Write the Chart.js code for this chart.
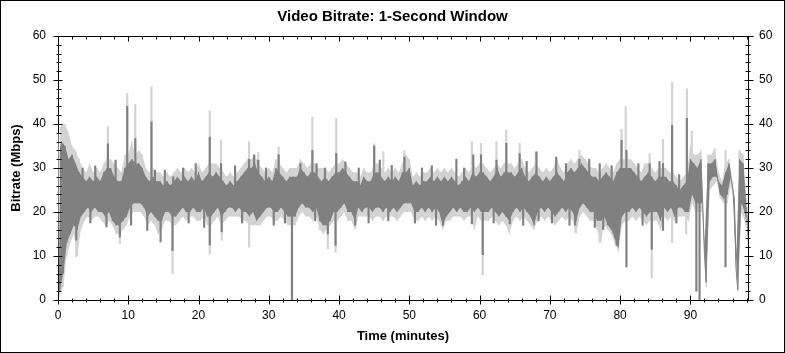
<!DOCTYPE html>
<html>
<head>
<meta charset="utf-8">
<title>Video Bitrate: 1-Second Window</title>
<script src="https://cdn.jsdelivr.net/npm/chart.js@4/dist/chart.umd.min.js"></script>
<style>
  html, body { margin: 0; padding: 0; background: #fff; }
  canvas { display: block; }
</style>
</head>
<body>
<canvas id="bitrateChart" width="785" height="353"></canvas>
<script>
// -----------------------------
// Data (Mbps), one bin every half minute starting at 0 min
// dark = main trace range, light = outer (peak) range
// -----------------------------
const BIN_MINUTES = 0.5;

const darkHi = [
  33, 36, 35, 32, 33, 31, 29, 28, 27, 28,
  27, 28, 27, 29, 30, 30, 28, 27, 27, 30,
  31, 32, 31, 31, 30, 28, 27, 28, 27, 27,
  26, 27, 26, 27, 28, 27, 28, 27, 28, 27,
  29, 27, 28, 29, 28, 29, 28, 27, 26, 27,
  26, 27, 28, 29, 30, 30, 31, 29, 28, 27,
  28, 27, 30, 29, 28, 27, 28, 28, 28, 30,
  29, 28, 29, 29, 28, 27, 28, 27, 28, 29,
  29, 30, 29, 28, 27, 27, 26, 28, 27, 27,
  29, 29, 28, 27, 28, 27, 28, 27, 29, 29,
  30, 26, 27, 26, 27, 27, 28, 27, 28, 27,
  28, 27, 28, 27, 26, 27, 28, 27, 29, 28,
  29, 29, 28, 27, 28, 30, 28, 29, 29, 29,
  28, 29, 30, 28, 27, 28, 29, 28, 27, 28,
  27, 28, 29, 28, 27, 29, 30, 29, 30, 31,
  30, 29, 28, 28, 27, 28, 29, 28, 27, 29,
  30, 30, 30, 30, 29, 28, 27, 28, 29, 28,
  27, 28, 28, 28, 27, 27, 26, 25, 26, 27,
  32, 31, 30, 32, 10.5, 31, 31, 32, 27, 26,
  29, 31, 25.5, 7, 32, 31,
  21
];

const darkLo = [
  2, 6, 13, 15, 17, 16, 19, 20, 21, 20,
  21, 20, 20, 19, 20, 18, 17, 17, 18, 19,
  21, 22, 22, 22, 21, 19, 20, 19, 18, 18,
  20, 20, 19, 19, 20, 21, 20, 20, 21, 20,
  20, 21, 19, 19, 20, 21, 19, 20, 21, 21,
  20, 21, 20, 20, 19, 20, 18, 19, 20, 21,
  21, 20, 20, 21, 20, 19, 19, 19, 21, 22,
  21, 21, 20, 21, 18, 17, 17, 18, 20, 20,
  21, 22, 20, 20, 18, 21, 20, 21, 21, 20,
  21, 21, 20, 21, 20, 21, 20, 21, 22, 22,
  22, 20, 20, 21, 20, 21, 20, 21, 20, 17,
  19, 20, 21, 20, 21, 20, 20, 21, 20, 21,
  20, 20, 20, 21, 20, 19, 20, 19, 18, 20,
  21, 20, 21, 20, 19, 17, 20, 21, 20, 21,
  20, 19, 20, 21, 20, 21, 20, 18, 21, 22,
  21, 20, 20, 18, 18, 19, 17, 16, 14, 12,
  19, 20, 20, 21, 20, 21, 20, 19, 20, 20,
  20, 18, 21, 20, 21, 19, 21, 21, 20, 20,
  24, 22, 22, 22, 4, 27, 28, 28, 24, 23,
  24, 28, 23, 2.3, 22, 20,
  13
];

const lightHi = [
  38, 40, 40, 38, 35, 34, 32, 30, 29, 31,
  29, 30, 29, 31, 32, 32, 31, 30, 29, 33,
  33, 36, 33, 34, 33, 30, 29, 30, 29, 29,
  28, 29, 28, 29, 30, 29, 30, 29, 30, 29,
  31, 29, 30, 31, 31, 31, 30, 29, 28, 29,
  28, 29, 30, 31, 32, 32, 33, 31, 30, 29,
  30, 29, 32, 31, 30, 29, 30, 30, 30, 32,
  31, 30, 31, 31, 30, 30, 30, 29, 30, 31,
  31, 32, 31, 30, 29, 29, 28, 30, 29, 29,
  31, 31, 30, 29, 30, 29, 30, 29, 31, 33,
  32, 28, 29, 28, 29, 29, 30, 29, 30, 29,
  30, 29, 30, 29, 28, 29, 30, 29, 31, 30,
  31, 31, 30, 29, 30, 31, 30, 31, 31, 31,
  30, 31, 32, 30, 29, 30, 31, 30, 29, 30,
  29, 30, 32, 30, 29, 31, 32, 31, 32, 33,
  32, 31, 30, 30, 29, 30, 31, 30, 29, 31,
  32, 32, 32, 32, 31, 30, 29, 31, 31, 30,
  29, 30, 30, 30, 29, 29, 28, 27, 28, 29,
  35, 33, 33, 34, 12, 33, 33, 34.5, 29, 27,
  31, 32, 27, 9, 34, 33,
  23
];

const lightLo = [
  1, 3, 10, 13, 15, 10, 16, 18, 19, 18,
  19, 19, 18, 17, 18, 17, 15, 15, 16, 17,
  19, 20, 20, 20, 19, 17, 18, 17, 15, 16,
  18, 18, 17, 17, 18, 19, 18, 19, 19, 18,
  18, 19, 17, 17, 18, 19, 17, 18, 19, 19,
  19, 19, 18, 18, 17, 17, 17, 17, 18, 19,
  19, 18, 18, 19, 18, 17, 17, 17, 19, 20,
  19, 19, 18, 19, 16, 15, 16, 17, 18, 18,
  19, 20, 18, 18, 16, 19, 19, 19, 19, 18,
  19, 19, 18, 19, 19, 19, 18, 19, 20, 20,
  20, 18, 18, 19, 18, 19, 18, 19, 18, 16,
  18, 18, 19, 19, 19, 18, 19, 19, 16, 19,
  18, 18, 18, 19, 18, 17, 18, 17, 15, 18,
  19, 18, 19, 18, 17, 16, 18, 19, 18, 19,
  18, 17, 18, 19, 18, 19, 18, 15, 19, 20,
  19, 18, 18, 16, 13, 17, 16, 15, 13, 11,
  17, 18, 18, 19, 18, 19, 18, 17, 18, 18,
  18, 16, 19, 18, 19, 18, 19, 19, 19, 18,
  22, 20, 20, 20, 3, 25, 26, 27, 23, 22,
  22, 26, 22, 2, 20, 18,
  12
];

// single-second spikes: minute, tip (Mbps); they start at the middle of the band
const BAND_MID = 24;

const darkUpMinutes = [
  3.5, 5.3, 7.1, 8.2, 9.85, 11.0, 13.3, 13.8, 15.2, 16.4, 17.8, 19.6,
  21.6, 23.2, 25.2, 27.2, 27.9, 28.5, 29.6, 31.4, 34.5, 36.2, 36.8, 38.0,
  39.6, 40.9, 42.8, 45.0, 45.8, 47.5, 49.3, 51.8, 53.2, 56.7, 57.8, 59.1,
  60.2, 62.4, 63.8, 65.7, 66.7, 68.1, 70.9, 72.3, 74.2, 75.6, 77.1, 78.8,
  80.2, 80.9, 82.6, 84.2, 85.6, 86.1, 87.4, 88.4, 89.5
];
const darkUpTop = [
  30, 30.5, 35.5, 31.8, 44, 36.7, 40.5, 29.5, 29.5, 28, 30, 31,
  37, 31, 30.5, 32, 33, 31.8, 30, 33, 31, 34, 31, 30,
  33.3, 31.4, 30, 35, 31.8, 30.6, 32.5, 30, 30.5, 32, 30, 33,
  33, 31.8, 35.6, 33.3, 31.5, 33.7, 32.5, 31, 32, 32, 31, 30.5,
  36.3, 34, 31, 31, 31.5, 31, 39.7, 28.5, 41.3
];

const darkDownMinutes = [
  2.6, 4.6, 6.9, 8.8, 10.4, 12.7, 14.6, 16.3, 18.6, 20.8, 21.6, 23.3,
  26.2, 30.7, 32.3, 33.3, 36.6, 38.4, 39.5, 42.3, 44.2, 47.0, 50.8, 53.8,
  54.8, 58.9, 60.45, 62.0, 64.3, 66.2, 68.4, 70.3, 72.8, 73.6, 76.4, 77.6,
  79.5, 80.9, 83.2, 84.5, 86.1, 88.0, 90.85, 91.3, 95.0
];
const darkDownBottom = [
  13.6, 17.5, 16.6, 14.3, 17, 15.8, 13.2, 11.2, 17.5, 16.5, 12.5, 15.5,
  17.5, 17, 17.5, 0, 18, 15, 12.4, 17, 17.5, 18, 17.5, 17,
  17, 17.3, 10.3, 17.5, 17.3, 17, 18, 17.5, 17, 17, 16.5, 16,
  12.4, 7.5, 17, 11.5, 15.8, 17.5, 2, 0, 7.5
];

const lightUpMinutes = [
  7.1, 9.85, 11.0, 13.3, 21.6, 23.2, 27.2, 28.5, 31.4, 36.2, 39.6, 45.0,
  46.3, 49.3, 58.9, 60.2, 62.4, 63.8, 65.7, 68.0, 74.2, 80.2, 80.8, 84.2,
  86.1, 87.4, 89.5, 90.2, 95.0, 97.0
];
const lightUpTop = [
  39.4, 47, 44.5, 48.5, 43, 36.3, 36, 33.5, 34.8, 41.6, 41.3, 35.5,
  33.7, 34, 36, 35.6, 36, 38.6, 35.6, 33.6, 34, 38.8, 44, 33.3,
  36.5, 49.5, 48, 38.4, 34, 34
];

const lightDownMinutes = [
  2.6, 8.8, 16.3, 21.6, 23.3, 27.2, 33.3, 38.4, 39.5, 42.3, 60.45, 73.6,
  77.1, 84.5, 87.4, 89.4
];
const lightDownBottom = [
  9.8, 12.8, 6, 10.4, 13.6, 12, 0, 11.6, 10.8, 16.6, 5.7, 15.4,
  13, 5, 13, 15
];

const X_MAX = 98.2;
const Y_MAX = 60;

const DARK = "#808080";
const LIGHT = "#d3d3d3";

// -----------------------------
// Helpers
// -----------------------------
// high of a bin sits at its start, low a quarter minute later
function highPoints(hi) {
  return hi.map((h, i) => ({ x: i * BIN_MINUTES, y: h }));
}

function lowPoints(lo) {
  return lo.map((l, i) => ({ x: i * BIN_MINUTES + BIN_MINUTES / 2, y: l }));
}

// high, low, high, low... so the stroke sweeps each bin's range
function sweepPoints(hi, lo) {
  const pts = [];
  const h = highPoints(hi);
  const l = lowPoints(lo);
  h.forEach((p, i) => { pts.push(p); pts.push(l[i]); });
  return pts;
}

function spikeBars(upT, upV, downT, downV) {
  const ups = upT.map((t, i) => ({ x: t, y: [BAND_MID, upV[i]] }));
  const downs = downT.map((t, i) => ({ x: t, y: [downV[i], BAND_MID] }));
  return ups.concat(downs).sort((a, b) => a.x - b.x);
}

const FONT = "'Liberation Sans', Arial, sans-serif";

// ticks that cross the frame, plus minor ticks and the outer border
const frameTicks = {
  id: "frameTicks",
  afterDraw(chart) {
    const { ctx, chartArea: a, scales } = chart;
    ctx.save();
    ctx.strokeStyle = "#000";
    ctx.lineWidth = 1;
    ctx.beginPath();

    const l = Math.round(a.left) + 0.5;
    const r = Math.round(a.right) + 0.5;
    const b = Math.round(a.bottom) + 0.5;
    const tp = Math.round(a.top) + 0.5;

    for (let v = 0; v <= Y_MAX; v += 2) {
      const y = Math.round(scales.y.getPixelForValue(v)) + 0.5;
      const major = v % 10 === 0;
      ctx.moveTo(l - (major ? 5 : 2), y);
      ctx.lineTo(l + (major ? 4 : 3), y);
      ctx.moveTo(r - (major ? 4 : 3), y);
      ctx.lineTo(r + (major ? 5 : 2), y);
    }

    for (let t = 0; t <= X_MAX; t += 2) {
      const x = Math.round(scales.x.getPixelForValue(t)) + 0.5;
      const major = t % 10 === 0;
      ctx.moveTo(x, b - (major ? 5 : 2));
      ctx.lineTo(x, b + (major ? 4 : 2));
      ctx.moveTo(x, tp);
      ctx.lineTo(x, tp + (major ? 5 : 3));
    }
    ctx.stroke();

    ctx.strokeRect(0.5, 0.5, chart.width - 1, chart.height - 1);
    ctx.restore();
  }
};

// -----------------------------
// Chart
// -----------------------------
function fixed(size, horizontal) {
  return scale => {
    if (horizontal) scale.height = size;
    else scale.width = size;
  };
}

const axisTitleFont = { family: FONT, size: 13, weight: "bold" };
const tickFont = { family: FONT, size: 12 };

const line = { pointRadius: 0, tension: 0, borderJoinStyle: "bevel" };
const bar = { type: "bar", barThickness: 1.5, grouped: false, borderWidth: 0 };

new Chart(document.getElementById("bitrateChart"), {
  type: "line",
  data: {
    datasets: [
      { ...bar, label: "spikes", data: spikeBars(darkUpMinutes, darkUpTop, darkDownMinutes, darkDownBottom),
        backgroundColor: DARK, order: 0 },
      { ...line, label: "Bitrate", data: sweepPoints(darkHi, darkLo), borderColor: DARK, borderWidth: 1, order: 1 },
      { ...line, label: "dark hi", data: highPoints(darkHi), borderColor: "transparent", borderWidth: 0,
        backgroundColor: DARK, fill: 3, order: 2 },
      { ...line, label: "dark lo", data: lowPoints(darkLo), borderColor: "transparent", borderWidth: 0, order: 2 },
      { ...bar, label: "peak spikes", data: spikeBars(lightUpMinutes, lightUpTop, lightDownMinutes, lightDownBottom),
        backgroundColor: LIGHT, order: 3 },
      { ...line, label: "Peak", data: sweepPoints(lightHi, lightLo), borderColor: LIGHT, borderWidth: 1, order: 4 },
      { ...line, label: "light hi", data: highPoints(lightHi), borderColor: "transparent", borderWidth: 0,
        backgroundColor: LIGHT, fill: 7, order: 5 },
      { ...line, label: "light lo", data: lowPoints(lightLo), borderColor: "transparent", borderWidth: 0, order: 5 }
    ]
  },
  options: {
    responsive: false,
    animation: false,
    devicePixelRatio: 1,
    layout: { padding: 0 },
    plugins: {
      legend: { display: false },
      tooltip: { enabled: false },
      filler: { propagate: false },
      title: {
        display: true,
        text: "Video Bitrate: 1-Second Window",
        color: "#000",
        font: { family: FONT, size: 15, weight: "bold" },
        padding: { top: 8, bottom: 0 }
      }
    },
    scales: {
      x: {
        type: "linear",
        position: "bottom",
        min: 0,
        max: X_MAX,
        offset: false,
        grid: { display: false, drawTicks: false, offset: false },
        border: { display: true, color: "#000", width: 1 },
        ticks: { stepSize: 10, includeBounds: false, color: "#000", font: tickFont, padding: 8, maxRotation: 0 },
        title: { display: true, text: "Time (minutes)", color: "#000", font: axisTitleFont, padding: { top: 0, bottom: 9 } },
        afterFit: fixed(53, true)
      },
      x2: {
        type: "linear",
        position: "top",
        min: 0,
        max: X_MAX,
        offset: false,
        grid: { display: false, drawTicks: false, offset: false },
        border: { display: true, color: "#000", width: 1 },
        ticks: { display: false },
        afterFit: fixed(10, true)
      },
      y: {
        type: "linear",
        position: "left",
        min: 0,
        max: Y_MAX,
        grid: { display: false, drawTicks: false },
        border: { display: true, color: "#000", width: 1 },
        ticks: { stepSize: 10, color: "#000", font: tickFont, padding: 12 },
        title: { display: true, text: "Bitrate (Mbps)", color: "#000", font: axisTitleFont, padding: { top: 9, bottom: 0 } },
        afterFit: fixed(58, false)
      },
      y2: {
        type: "linear",
        position: "right",
        min: 0,
        max: Y_MAX,
        grid: { display: false, drawTicks: false },
        border: { display: true, color: "#000", width: 1 },
        ticks: { stepSize: 10, color: "#000", font: tickFont, padding: 11 },
        afterFit: fixed(37, false)
      }
    }
  },
  plugins: [frameTicks]
});
</script>
</body>
</html>
